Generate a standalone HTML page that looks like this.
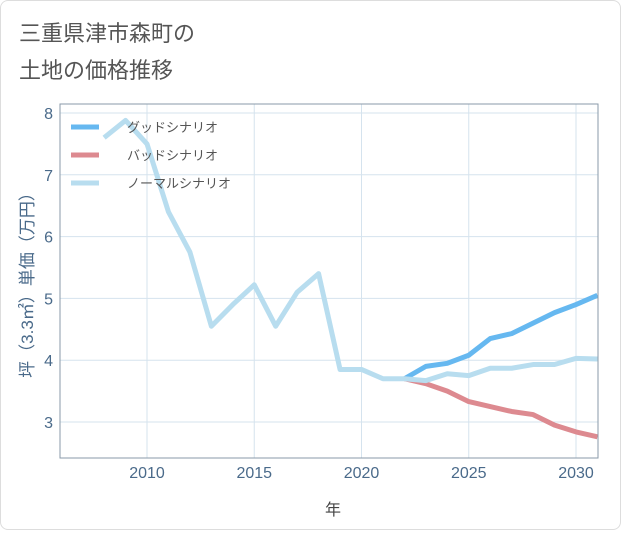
<!DOCTYPE html>
<html><head><meta charset="utf-8"><style>
body{margin:0;background:#fff;}
#card{position:absolute;left:0;top:0;width:619px;height:528px;border:1px solid #ddd;border-radius:8px;background:#fff;}
text{font-family:"Liberation Sans","Noto Sans CJK JP",sans-serif;}
</style></head><body>
<div id="card">
<svg id="chart" width="621" height="530">
<text x="18" y="40" font-size="22" fill="#555">三重県津市森町の</text>
<text x="18" y="77" font-size="22" fill="#555">土地の価格推移</text>
<g id="grid"></g><g id="series"></g><g id="axes"></g>
<text x="332" y="514" font-size="16" fill="#444" text-anchor="middle">年</text>
<text transform="translate(32,280) rotate(-90)" font-size="17" fill="#4a6a8a" text-anchor="middle">坪（3.3㎡）単価（万円）</text>
<g id="legend"></g>
</svg></div>
<script>
const years=[2008,2009,2010,2011,2012,2013,2014,2015,2016,2017,2018,2019,2020,2021,2022,2023,2024,2025,2026,2027,2028,2029,2030,2031];
const normalVals=[7.6,7.88,7.5,6.4,5.75,4.55,4.9,5.22,4.55,5.1,5.4,3.85,3.85,3.7,3.7,3.67,3.78,3.75,3.87,3.87,3.93,3.93,4.03,4.02];
const futureYears=[2022,2023,2024,2025,2026,2027,2028,2029,2030,2031];
const goodVals=[3.7,3.9,3.95,4.08,4.35,4.43,4.6,4.77,4.9,5.05];
const badVals=[3.7,3.62,3.5,3.33,3.25,3.17,3.12,2.95,2.84,2.76];
const xTicks=[2010,2015,2020,2025,2030];
const yTicks=[3,4,5,6,7,8];
const L=59,R=597,T=103,B=457;
const x=v=>146+(v-2010)*21.45;
const y=v=>112+(8-v)*61.8;
const NS="http://www.w3.org/2000/svg";
function mk(p,t,a){const e=document.createElementNS(NS,t);for(const k in a)e.setAttribute(k,a[k]);p.appendChild(e);return e;}
const grid=document.getElementById('grid'),axes=document.getElementById('axes'),ser=document.getElementById('series'),leg=document.getElementById('legend');
xTicks.forEach(v=>{const l=mk(grid,'line',{x1:x(v),x2:x(v),y1:T,y2:B,stroke:'#d5e3ee'});


const t=mk(axes,'text',{x:x(v),y:477,'font-size':16,fill:'#4a6a8a','text-anchor':'middle'});t.textContent=v;

});
yTicks.forEach(v=>{const l=mk(grid,'line',{x1:L,x2:R,y1:y(v),y2:y(v),stroke:'#d5e3ee'});


const t=mk(axes,'text',{x:52,y:y(v)+6,'font-size':16,fill:'#4a6a8a','text-anchor':'end'});t.textContent=v;

});
const fr=mk(axes,'rect',{x:L,y:T,width:R-L,height:B-T,fill:'none',stroke:'#8a9aa8'});


mk(ser,'clipPath',{id:'cp'}).appendChild(document.createElementNS(NS,'rect'));
const cr=document.querySelector('#cp rect');cr.setAttribute('x',L);cr.setAttribute('y',T);cr.setAttribute('width',R-L);cr.setAttribute('height',B-T);
function line(xs,vs,c,name){const p=mk(ser,'polyline',{points:xs.map((a,i)=>x(a)+','+y(vs[i])).join(' '),fill:'none',stroke:c,'stroke-width':5,'stroke-linejoin':'round','clip-path':'url(#cp)'});

}
line(futureYears,goodVals,'#66b8f0','good-scenario-line');
line(futureYears,badVals,'#dd8a90','bad-scenario-line');
line(years,normalVals,'#b8ddef','normal-scenario-line');
[['グッドシナリオ','#66b8f0'],['バッドシナリオ','#dd8a90'],['ノーマルシナリオ','#b8ddef']].forEach((d,i)=>{
const g=mk(leg,'g',{});


mk(g,'line',{x1:70,x2:98,y1:126+i*28,y2:126+i*28,stroke:d[1],'stroke-width':5});
const t=mk(g,'text',{x:126,y:131+i*28,'font-size':13,fill:'#555'});t.textContent=d[0];});
</script></body></html>
